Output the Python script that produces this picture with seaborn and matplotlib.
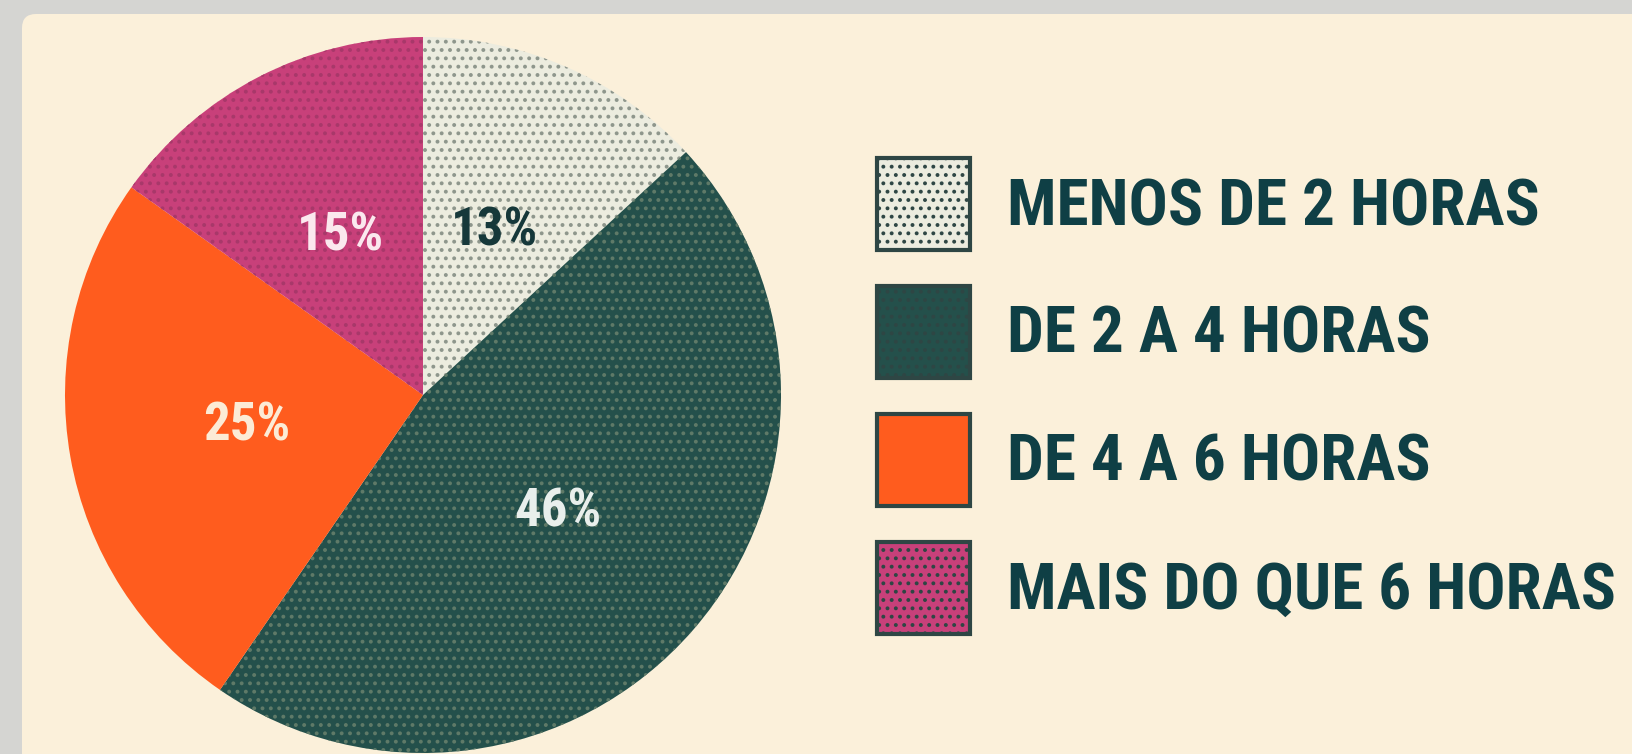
import matplotlib.pyplot as plt
import seaborn as sns
from matplotlib.patches import FancyBboxPatch, Patch
from matplotlib.transforms import IdentityTransform

# data (slices go clockwise from 12 o'clock)
categories = ["MENOS DE 2 HORAS", "DE 2 A 4 HORAS", "DE 4 A 6 HORAS", "MAIS DO QUE 6 HORAS"]
shares = [13, 46, 25, 15]

slice_colors = ["#ECECDF", "#24504B", "#FF5C1E", "#C8407A"]
dot_colors = ["#8E968C", "#5F7A68", "#FF5C1E", "#A8386A"]
label_colors = ["#16383A", "#E9EFEC", "#FCEBD6", "#FBE8EE"]
text_color = "#0F3F45"
cream = "#FBF0DA"

sns.set_theme(style="white")
plt.rcParams['font.family'] = ['Roboto Condensed', 'Liberation Sans Narrow', 'DejaVu Sans']
plt.rcParams['font.stretch'] = 'condensed'
plt.rcParams['hatch.linewidth'] = 1.6

fig = plt.figure(figsize=(16.33, 7.54), dpi=100, facecolor="#D5D5D2")

# cream card behind everything, rounded top-left corner
panel = FancyBboxPatch((22, -30), 1700, 754 - 14 + 30,
                       boxstyle="round,pad=0,rounding_size=14",
                       transform=IdentityTransform(),
                       facecolor=cream, edgecolor="none", zorder=-5)
fig.patches.append(panel)

ax = fig.add_axes([65 / 1633, 1 / 754, 716 / 1633, 716 / 754])
ax.set_zorder(2)
ax.patch.set_visible(False)
total = sum(shares)
wedges, texts, autotexts = ax.pie(
    shares, colors=slice_colors, startangle=90, counterclock=False,
    autopct=lambda p: f"{p * total / 100:.0f}%", pctdistance=0.5,
    wedgeprops=dict(linewidth=0),
    textprops=dict(fontsize=38, fontweight="bold"))
for i, w in enumerate(wedges):
    w.set_edgecolor(dot_colors[i])
    if i != 2:
        w.set_hatch("..")
for t, c in zip(autotexts, label_colors):
    t.set_color(c)
ax.set_xlim(-1, 1)
ax.set_ylim(-1, 1)
ax.set_aspect("equal")

leg_size = 47
fs_px = leg_size * 100 / 72
handles = []
for i, c in enumerate(slice_colors):
    handles.append(Patch(facecolor=c, edgecolor="#2E4644", linewidth=3,
                         hatch=".." if i != 2 else None))
fig.legend(handles, categories, loc="upper left",
           bbox_to_anchor=(877 / 1633, 1 - 158 / 754), bbox_transform=fig.transFigure,
           frameon=False, prop=dict(weight="bold", size=leg_size), labelcolor=text_color,
           handlelength=93 / fs_px, handleheight=(92 / fs_px - 0.245) / 0.65,
           handletextpad=0.56, labelspacing=0.55, borderpad=0, borderaxespad=0)

fig.savefig("out.png", dpi=100, facecolor=fig.get_facecolor())
